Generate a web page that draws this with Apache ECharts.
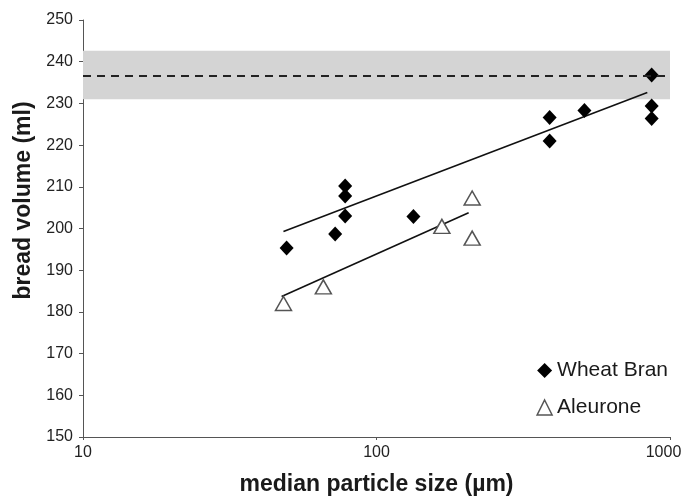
<!DOCTYPE html>
<html>
<head>
<meta charset="utf-8">
<script src="https://cdn.jsdelivr.net/npm/echarts@6/dist/echarts.min.js"></script>
<style>
  html, body { margin: 0; padding: 0; background: #fff; }
  #chart { width: 683px; height: 498px; }
</style>
</head>
<body>
<div id="chart"></div>
<script>
// data
const wheatSize = [49.4, 72.3, 78.2, 78.2, 78.2, 133.6, 389, 389, 511, 866, 866, 866];
const wheatVolume = [195.3, 198.7, 203.0, 207.8, 210.2, 202.9, 226.6, 221.0, 228.3, 236.8, 229.4, 226.4];
const aleuroneSize = [48.2, 65.9, 167, 211.8, 211.8];
const aleuroneVolume = [182.0, 186.0, 200.5, 207.3, 197.7];
// trend lines (end points)
const wheatFitSize = [48.2, 837];
const wheatFitVolume = [199.3, 232.6];
const aleuroneFitSize = [47.5, 206];
const aleuroneFitVolume = [183.7, 203.8];
// control bread: mean and range
const controlMean = 236.7;
const controlBand = [231.0, 242.6];
const xTicks = [10, 100, 1000];

const pairs = (xs, ys) => xs.map((x, i) => [x, ys[i]]);

const font = 'Liberation Sans, Arial, sans-serif';
const mychart = echarts.init(document.getElementById('chart'));

const option = {
    animation: false,
    textStyle: { fontFamily: font },
    grid: { left: 83, right: 13, top: 20, bottom: 61, outerBoundsMode: 'none', containLabel: false },
    legend: {
        orient: 'vertical',
        right: 10,
        top: 355,
        itemWidth: 15,
        itemHeight: 15,
        itemGap: 16,
        textStyle: { fontSize: 21, color: '#1a1a1a', fontFamily: font },
        data: [
            { name: 'Wheat Bran', icon: 'diamond', itemStyle: { color: '#000', opacity: 1 } },
            { name: 'Aleurone', icon: 'triangle', itemStyle: { color: '#fff', borderColor: '#555', borderWidth: 1.5, opacity: 1 } }
        ]
    },
    xAxis: {
        type: 'log',
        logBase: 10,
        min: 10,
        max: 1000,
        name: 'median particle size (\u00b5m)',
        nameLocation: 'middle',
        nameGap: 36,
        nameTextStyle: { fontSize: 23, fontWeight: 'bold', color: '#1a1a1a' },
        axisLine: { lineStyle: { color: '#555' } },
        axisTick: { length: 3, lineStyle: { color: '#555' } },
        splitLine: { show: false },
        minorTick: { show: false },
        axisLabel: {
            fontSize: 16, color: '#222', margin: 8,
            formatter: v => {
                const t = Math.round(v);
                if (!xTicks.includes(t)) return '';
                // last label is nudged left so it stays inside the page
                return t === xTicks[xTicks.length - 1] ? '{last|' + t + '}' : String(t);
            },
            rich: { last: { fontSize: 16, color: '#222', padding: [0, 13, 0, 0] } }
        }
    },
    yAxis: {
        type: 'value',
        min: 150,
        max: 250,
        interval: 10,
        name: 'bread volume (ml)',
        nameLocation: 'middle',
        nameGap: 48,
        nameTextStyle: { fontSize: 23, fontWeight: 'bold', color: '#1a1a1a', padding: [0, 0, 0, 56] },
        axisLine: { show: true, lineStyle: { color: '#555' } },
        axisTick: { show: true, length: 4, lineStyle: { color: '#555' } },
        splitLine: { show: false },
        axisLabel: { fontSize: 16, color: '#222', margin: 10 }
    },
    series: [
        {
            name: 'control',
            type: 'line',
            data: [],
            silent: true,
            markArea: {
                silent: true,
                itemStyle: { color: '#d4d4d4' },
                data: [[{ yAxis: controlBand[0] }, { yAxis: controlBand[1] }]]
            },
            markLine: {
                silent: true,
                symbol: 'none',
                label: { show: false },
                lineStyle: { color: '#222', width: 2.2, type: [8, 6] },
                data: [{ yAxis: controlMean }]
            }
        },
        {
            name: 'Wheat Bran fit',
            type: 'line',
            data: pairs(wheatFitSize, wheatFitVolume),
            showSymbol: false,
            lineStyle: { color: '#111', width: 1.6 },
            z: 3
        },
        {
            name: 'Aleurone fit',
            type: 'line',
            data: pairs(aleuroneFitSize, aleuroneFitVolume),
            showSymbol: false,
            lineStyle: { color: '#111', width: 1.6 },
            z: 3
        },
        {
            name: 'Wheat Bran',
            type: 'scatter',
            symbol: 'diamond',
            symbolSize: [14, 15],
            itemStyle: { color: '#000', opacity: 1 },
            data: pairs(wheatSize, wheatVolume),
            z: 4
        },
        {
            name: 'Aleurone',
            type: 'scatter',
            symbol: 'triangle',
            symbolSize: [16, 14],
            itemStyle: { color: '#fff', borderColor: '#555', borderWidth: 1.5, opacity: 1 },
            data: pairs(aleuroneSize, aleuroneVolume),
            z: 4
        }
    ]
};
mychart.setOption(option);
</script>
</body>
</html>
